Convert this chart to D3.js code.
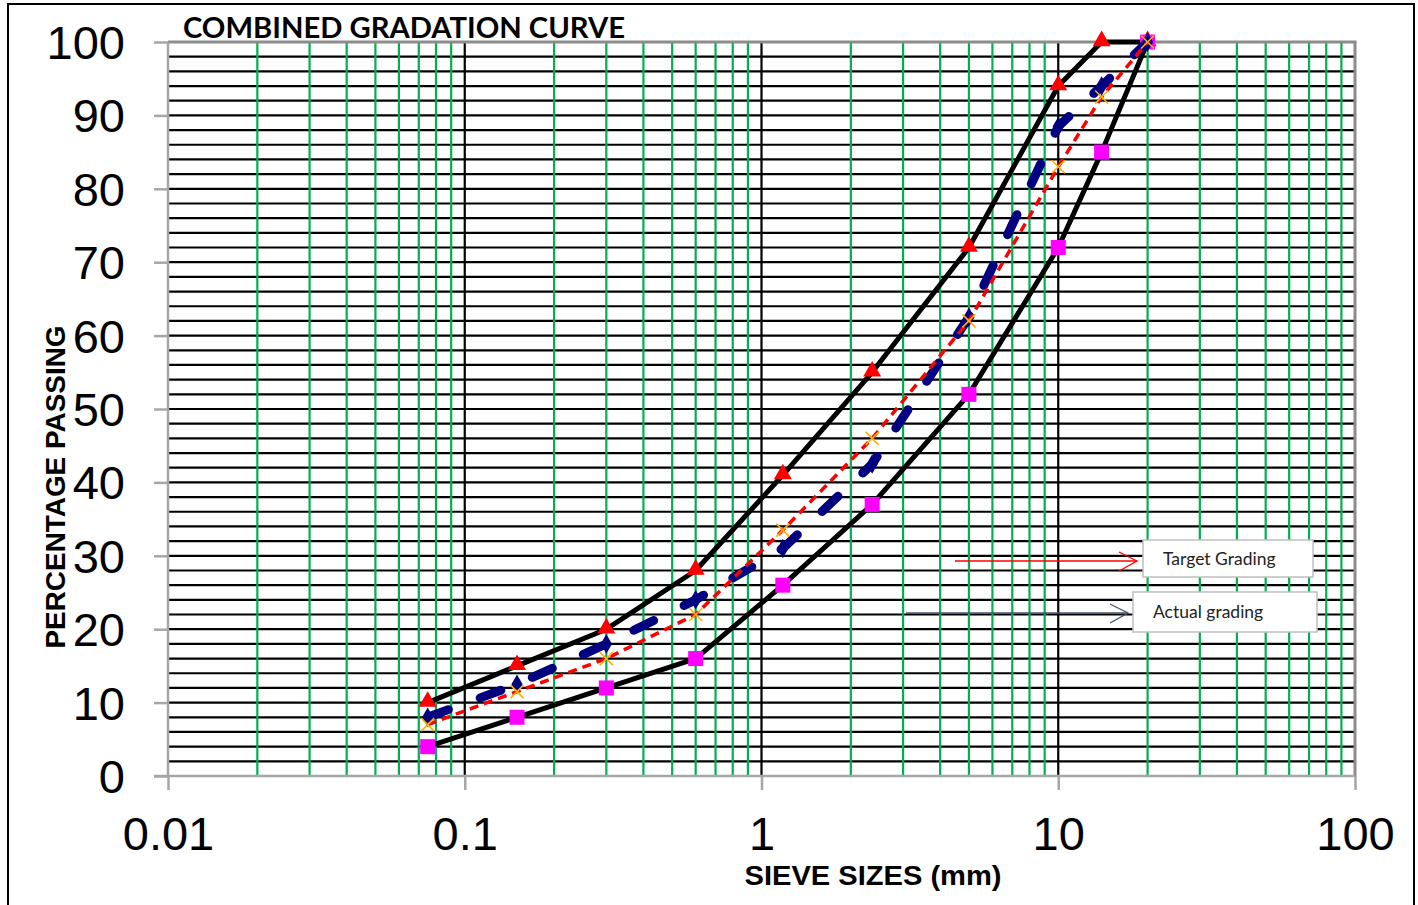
<!DOCTYPE html>
<html>
<head>
<meta charset="utf-8">
<script src="https://cdn.jsdelivr.net/npm/d3@7"></script>
<style>
  body { margin: 0; background: #fff; }
  svg { display: block; }
</style>
</head>
<body>
<svg id="chart" width="1418" height="905"></svg>
<script>
// sieve sizes (mm) and percentage passing for each curve
var sieve = [0.075, 0.15, 0.3, 0.6, 1.18, 2.36, 5, 10, 14, 20];
var upperLimit = [10, 15, 20, 28, 41, 55, 72, 94, 100, 100];
var lowerLimit = [4, 8, 12, 16, 26, 37, 52, 72, 85, 100];
var targetGrading = [7, 11.5, 16, 22, 33.5, 46, 62, 83, 92.5, 100];
var actualGrading = [8, 12.5, 18, 24, 31, 42.5, 62.5, 88.5, 94, 100];

var yTicks = [0, 10, 20, 30, 40, 50, 60, 70, 80, 90, 100];
var xTicks = [0.01, 0.1, 1, 10, 100];

var svg = d3.select('#chart');
var plotL = 168, plotR = 1355, plotT = 42, plotB = 776;

var x = d3.scaleLog().domain([0.01, 100]).range([plotL, plotR]);
var y = d3.scaleLinear().domain([0, 100]).range([plotB, plotT]);

// outer border
svg.append('rect').attr('x', 8).attr('y', 4).attr('width', 1406).attr('height', 910)
  .attr('fill', 'none').attr('stroke', '#000').attr('stroke-width', 2);

var grid = svg.append('g');

// horizontal gridlines every 2%
grid.selectAll('line.h').data(d3.range(2, 100, 2)).enter().append('line')
  .attr('x1', plotL).attr('x2', plotR)
  .attr('y1', function(d) { return y(d); }).attr('y2', function(d) { return y(d); })
  .attr('stroke', '#000').attr('stroke-width', 2.2);

// minor vertical gridlines (green)
var minors = [];
[0.01, 0.1, 1, 10].forEach(function(dec) {
  for (var m = 2; m <= 9; m++) minors.push(dec * m);
});
grid.selectAll('line.vm').data(minors).enter().append('line')
  .attr('x1', function(d) { return x(d); }).attr('x2', function(d) { return x(d); })
  .attr('y1', plotT).attr('y2', plotB)
  .attr('stroke', '#00b050').attr('stroke-width', 2.2);

// major vertical gridlines
grid.selectAll('line.vM').data([0.1, 1, 10]).enter().append('line')
  .attr('x1', function(d) { return x(d); }).attr('x2', function(d) { return x(d); })
  .attr('y1', plotT).attr('y2', plotB)
  .attr('stroke', '#000').attr('stroke-width', 2.2);

// plot frame top/right
svg.append('line').attr('x1', plotL).attr('x2', plotR + 1.5).attr('y1', plotT).attr('y2', plotT)
  .attr('stroke', '#8c8c8c').attr('stroke-width', 3);
svg.append('line').attr('x1', plotR).attr('x2', plotR).attr('y1', plotT).attr('y2', plotB)
  .attr('stroke', '#8c8c8c').attr('stroke-width', 3);

// axes
var yAxis = svg.append('g').attr('transform', 'translate(' + plotL + ',0)')
  .call(d3.axisLeft(y).tickValues(yTicks).tickSize(14).tickPadding(29).tickFormat(d3.format('d')));
var xAxis = svg.append('g').attr('transform', 'translate(0,' + plotB + ')')
  .call(d3.axisBottom(x).tickValues(xTicks).tickSize(14).tickFormat(function(d) { return String(d); }));

[yAxis, xAxis].forEach(function(a) {
  a.select('.domain').attr('stroke', '#a6a6a6').attr('stroke-width', 2.5);
  a.selectAll('.tick line').attr('stroke', '#a6a6a6').attr('stroke-width', 2.5);
  a.selectAll('.tick text').attr('fill', '#000')
    .style('font-family', '"Liberation Sans", Arial, sans-serif').style('font-size', '47px');
});
yAxis.select('.domain').attr('d', 'M0,' + plotB + 'V' + plotT);
yAxis.selectAll('.tick text').attr('dy', '0.35em');
xAxis.selectAll('.tick text').attr('y', 0).attr('dy', 0).attr('transform', 'translate(0,74)');
xAxis.select('.domain').attr('d', 'M' + (plotL - 14) + ',0H' + plotR);

// series
var line = d3.line()
  .x(function(d, i) { return x(sieve[i]); })
  .y(function(d) { return y(d); });

svg.append('path').datum(upperLimit).attr('d', line)
  .attr('fill', 'none').attr('stroke', '#000').attr('stroke-width', 5).attr('stroke-linejoin', 'round');
svg.append('path').datum(lowerLimit).attr('d', line)
  .attr('fill', 'none').attr('stroke', '#000').attr('stroke-width', 5).attr('stroke-linejoin', 'round');

// markers for limits
svg.selectAll('path.tri').data(upperLimit).enter().append('path')
  .attr('d', d3.symbol().type(d3.symbolTriangle).size(140))
  .attr('transform', function(d, i) { return 'translate(' + x(sieve[i]) + ',' + (y(d) - 1) + ')'; })
  .attr('fill', '#ff0000');
svg.selectAll('rect.sq').data(lowerLimit).enter().append('rect')
  .attr('x', function(d, i) { return x(sieve[i]) - 7.5; })
  .attr('y', function(d) { return y(d) - 7.5; })
  .attr('width', 15).attr('height', 15)
  .attr('fill', '#ff00ff');

// actual grading
svg.append('path').datum(actualGrading).attr('d', line)
  .attr('fill', 'none').attr('stroke', '#000080').attr('stroke-width', 9)
  .attr('stroke-linecap', 'round').attr('stroke-dasharray', '22,34');
svg.selectAll('path.dia').data(actualGrading).enter().append('path')
  .attr('d', d3.symbol().type(d3.symbolDiamond).size(110))
  .attr('transform', function(d, i) { return 'translate(' + x(sieve[i]) + ',' + y(d) + ')'; })
  .attr('fill', '#000080');

// target grading
svg.append('path').datum(targetGrading).attr('d', line)
  .attr('fill', 'none').attr('stroke', '#ff0000').attr('stroke-width', 3.5)
  .attr('stroke-dasharray', '9,6');
svg.selectAll('path.cross').data(targetGrading).enter().append('path')
  .attr('d', 'M-6.5,-6.5L6.5,6.5M-6.5,6.5L6.5,-6.5')
  .attr('transform', function(d, i) { return 'translate(' + x(sieve[i]) + ',' + y(d) + ')'; })
  .attr('stroke', '#ffb000').attr('stroke-width', 1.6).attr('fill', 'none');

// title and axis titles
svg.append('text').attr('x', 183).attr('y', 38)
  .attr('textLength', 442).attr('lengthAdjust', 'spacingAndGlyphs')
  .style('font-family', 'Lato, "Open Sans", sans-serif').style('font-weight', 'bold').style('font-size', '29px')
  .text('COMBINED GRADATION CURVE');

svg.append('text').attr('transform', 'translate(65,487) rotate(-90)')
  .attr('text-anchor', 'middle').attr('textLength', 323).attr('lengthAdjust', 'spacingAndGlyphs')
  .style('font-family', '"Liberation Sans", Arial, sans-serif').style('font-weight', 'bold').style('font-size', '27px')
  .text('PERCENTAGE PASSING');

svg.append('text').attr('x', 873).attr('y', 885)
  .attr('text-anchor', 'middle').attr('textLength', 257).attr('lengthAdjust', 'spacingAndGlyphs')
  .style('font-family', '"Liberation Sans", Arial, sans-serif').style('font-weight', 'bold').style('font-size', '28px')
  .text('SIEVE SIZES (mm)');

// callout labels with arrows
var callouts = [
  { label: 'Target Grading', color: '#ff0000', x0: 955, x1: 1137, ay: 561, bx: 1143, by: 540, bw: 170, bh: 37 },
  { label: 'Actual grading', color: '#44546a', x0: 906, x1: 1128, ay: 613, bx: 1133, by: 592, bw: 184, bh: 40 }
];
callouts.forEach(function(c) {
  var g = svg.append('g');
  g.append('line').attr('x1', c.x0).attr('x2', c.x1).attr('y1', c.ay).attr('y2', c.ay)
    .attr('stroke', c.color).attr('stroke-width', 1.3);
  g.append('path').attr('d', 'M' + (c.x1 - 18) + ',' + (c.ay - 9) + 'L' + c.x1 + ',' + c.ay + 'L' + (c.x1 - 18) + ',' + (c.ay + 10))
    .attr('fill', 'none').attr('stroke', c.color).attr('stroke-width', 1.3);
  g.append('rect').attr('x', c.bx).attr('y', c.by).attr('width', c.bw).attr('height', c.bh)
    .attr('fill', '#fff').attr('stroke', '#bfbfbf').attr('stroke-width', 1.5);
  g.append('text').attr('x', c.bx + 20).attr('y', c.by + c.bh / 2 + 6)
    .style('font-family', 'Lato, "Open Sans", sans-serif').style('font-size', '17.5px').attr('fill', '#222')
    .text(c.label);
});
</script>
</body>
</html>
